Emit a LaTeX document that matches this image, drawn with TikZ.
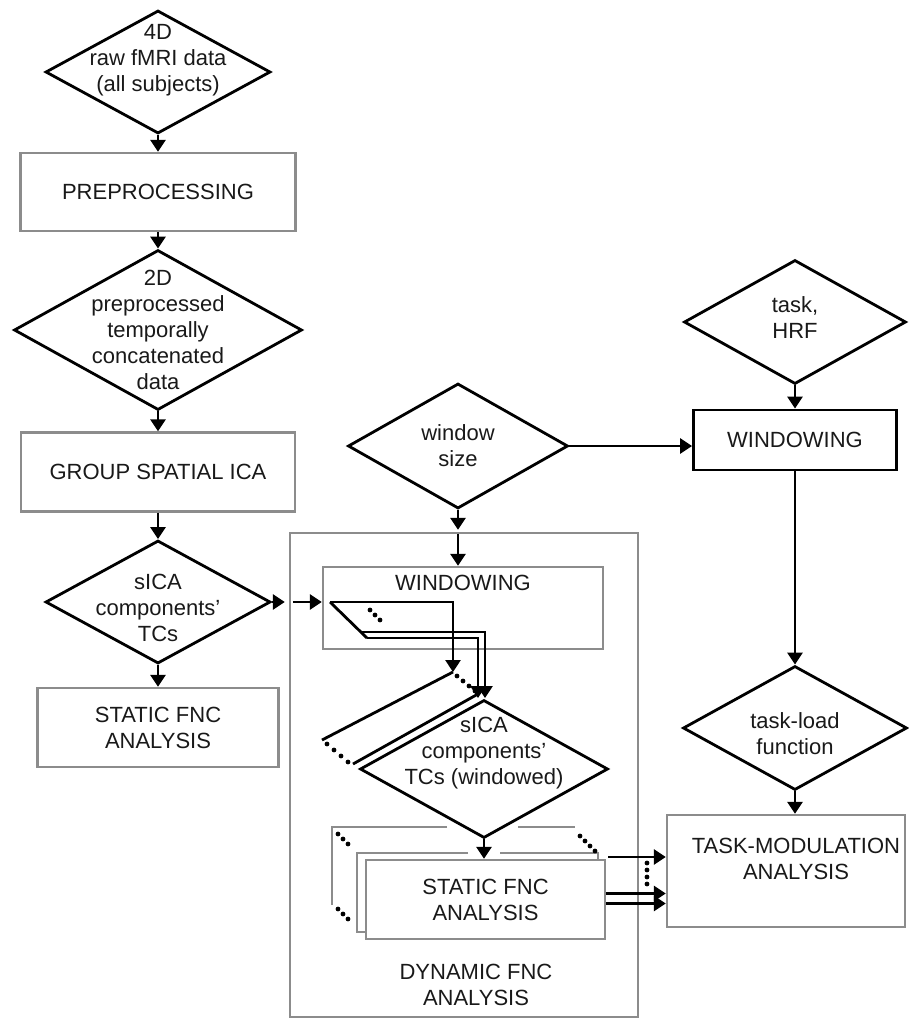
\documentclass[tikz,border=0pt]{standalone}
\usepackage{fontspec}
\setmainfont{Liberation Sans}
\usetikzlibrary{shapes.geometric,arrows.meta}

\begin{document}
\begin{tikzpicture}[x=0.5pt,y=-0.5pt,
        font=\fontsize{11}{13}\selectfont,
        every node/.style={text=black!90},
        diam/.style={draw,diamond,line width=1.4pt,inner sep=0pt},
        gbox/.style={draw=black!45,line width=1.2pt,rectangle,align=center},
        bbox/.style={draw,line width=1.4pt,rectangle,align=center},
        dlab/.style={align=center,inner sep=0pt},
        arr/.style={line width=1.4pt,-{Triangle[length=6pt,width=7.5pt]}},
        blk/.style={line width=1.4pt},
        gline/.style={draw=black!45,line width=1.2pt},
        dot/.style={fill=black,circle,inner sep=0pt,minimum size=2.4pt}
    ]
    \useasboundingbox (0,0) rectangle (909,1019);

    % dynamic part, drawn first
    \node[gbox,minimum width=174pt,minimum height=242pt,
        label={[dlab,anchor=south,xshift=6pt,yshift=6pt]south:DYNAMIC FNC\\ANALYSIS}]
        (dyn) at (464,775) {};

    % left column
    \node[diam,minimum width=112.5pt,minimum height=61.5pt,
        label={[dlab,yshift=6pt]center:4D\\raw fMRI data\\(all subjects)}] (raw) at (158,72) {};
    \node[gbox,minimum width=137.5pt,minimum height=39pt] (pre) at (158,192) {PREPROCESSING};
    \node[diam,minimum width=144pt,minimum height=80pt,
        label={[dlab]center:2D\\preprocessed\\temporally\\concatenated\\data}] (prep) at (158,330) {};
    \node[gbox,minimum width=137pt,minimum height=39.5pt] (gica) at (158,472) {GROUP SPATIAL ICA};
    \node[diam,minimum width=112.5pt,minimum height=61.5pt,
        label={[dlab,yshift=-3pt]center:sICA\\components'\\TCs}] (sica) at (158,602) {};
    \node[gbox,minimum width=120.5pt,minimum height=39.5pt] (sfnc) at (158,727.5) {STATIC FNC\\ANALYSIS};

    % right column
    \node[diam,minimum width=110pt,minimum height=62.5pt,
        label={[dlab]center:window\\size}] (wsize) at (458,446) {};
    \node[diam,minimum width=111pt,minimum height=62pt,
        label={[dlab,yshift=2pt]center:task,\\HRF}] (task) at (795,322) {};
    \node[bbox,minimum width=101.5pt,minimum height=30pt] (winR) at (795,440) {WINDOWING};
    \node[diam,minimum width=112pt,minimum height=62pt,
        label={[dlab,yshift=-3pt]center:task-load\\function}] (tload) at (795,728) {};
    \node[gbox,minimum width=119pt,minimum height=56pt,
        label={[dlab,xshift=5pt,yshift=6pt]center:TASK-MODULATION\\ANALYSIS}] (tmod) at (786,871) {};

    % inside the dynamic box
    \node[gbox,minimum width=140pt,minimum height=41pt,
        label={[dlab,anchor=north,yshift=-4.5pt]north:WINDOWING}] (winI) at (463,608) {};
    \node[diam,minimum width=124pt,minimum height=69pt,
        label={[dlab,yshift=8pt]center:sICA\\components'\\TCs (windowed)}] (swin) at (484,769) {};
    \node[gbox,minimum width=119.5pt,minimum height=39.5pt] (sfncD) at (485.5,899.5) {STATIC FNC\\ANALYSIS};

    % stacked windows
    \draw[arr] (330,602) -- (453,602) -- (453,672);
    \draw[blk] (330,602) -- (367,638);
    \draw[arr] (361,632) -- (485,632) -- (485,698);
    \draw[arr] (367,638) -- (478,638) -- (478,698);
    \foreach \i in {0,1,2}
        \node[dot] (wd\i) at (370+5*\i,610+5*\i) {};

    % stacked diamonds
    \draw[blk] (453,672) -- (322,740);
    \draw[blk] (478,694) -- (353,764);
    \foreach \i in {0,1,2,3} {
        \node[dot] (da\i) at (457+6*\i,676+5*\i) {};
        \node[dot] (db\i) at (327+7*\i,744+6*\i) {};
    }

    % stacked boxes
    \draw[gline] (447,827) -- (332,827) -- (332,905);
    \draw[gline] (518,827) -- (575,827);
    \draw[gline] (468,853) -- (357,853) -- (357,932) -- (366,932);
    \draw[gline] (500,853) -- (598,853) -- (598,860);
    \foreach \i in {0,1,2} {
        \node[dot] (ba\i) at (338+5*\i,834+5*\i) {};
        \node[dot] (bb\i) at (338+5*\i,909+5*\i) {};
    }
    \foreach \i in {0,1,2,3}
        \node[dot] (bc\i) at (580+5*\i,836+5*\i) {};
    \foreach \i in {0,1,2,3}
        \node[dot] (bd\i) at (647,863+7*\i) {};

    % connectors
    \draw[arr] (raw.south) -- (raw.south |- pre.north);
    \draw[arr] (pre.south) -- (pre.south |- prep.north);
    \draw[arr] (prep.south) -- (prep.south |- gica.north);
    \draw[arr] (gica.south) -- (gica.south |- sica.north);
    \draw[arr] (sica.south) -- (sica.south |- sfnc.north);
    \draw[arr] (sica.east) -- ([xshift=-2pt]sica.east -| dyn.west);
    \draw[arr] ([xshift=2pt]sica.east -| dyn.west) -- (sica.east -| winI.west);
    \draw[arr] (wsize.south) -- ([yshift=1pt]wsize.south |- dyn.north);
    \draw[arr] ([yshift=-1pt]wsize.south |- dyn.north) -- (wsize.south |- winI.north);
    \draw[arr] (wsize.east) -- (wsize.east -| winR.west);
    \draw[arr] (task.south) -- (task.south |- winR.north);
    \draw[arr] (winR.south) -- (winR.south |- tload.north);
    \draw[arr] (tload.south) -- (tload.south |- tmod.north);
    \draw[arr] (swin.south) -- (swin.south |- sfncD.north);
    \coordinate (o1) at (608,857);
    \draw[arr] (o1) -- (o1 -| tmod.west);
    \draw[arr] ([yshift=3pt]sfncD.east) -- ([yshift=3pt]sfncD.east -| tmod.west);
    \draw[arr] ([yshift=-2pt]sfncD.east) -- ([yshift=-2pt]sfncD.east -| tmod.west);
\end{tikzpicture}
\end{document}
